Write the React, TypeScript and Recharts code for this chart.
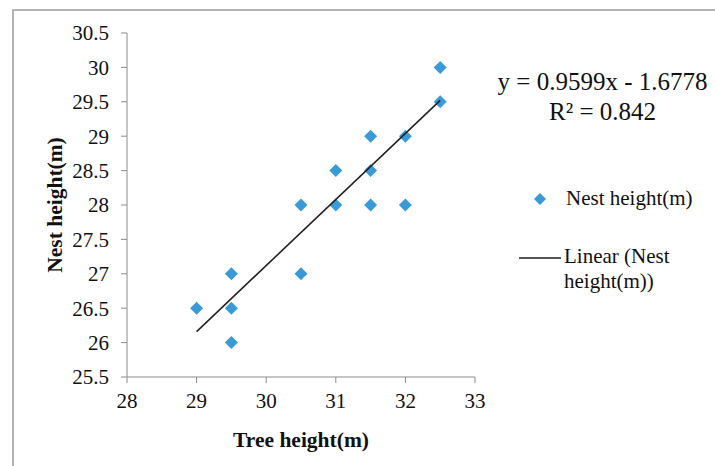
import React from 'react';
import { ScatterChart, Scatter, XAxis, YAxis } from 'recharts';

// tree height vs nest height
const treeHeight = [29, 29.5, 29.5, 29.5, 30.5, 30.5, 31, 31, 31.5, 31.5, 31.5, 32, 32, 32.5, 32.5];
const nestHeight = [26.5, 27, 26.5, 26, 28, 27, 28.5, 28, 29, 28.5, 28, 29, 28, 30, 29.5];

// linear trend endpoints (y = 0.9599x - 1.6778)
const trendX = [29, 32.5];
const trendY = [26.16, 29.52];

const xTicks = [28, 29, 30, 31, 32, 33];
const yTicks = [25.5, 26, 26.5, 27, 27.5, 28, 28.5, 29, 29.5, 30, 30.5];

const points = treeHeight.map((x, i) => ({ x, y: nestHeight[i] }));
const trend = trendX.map((x, i) => ({ x, y: trendY[i] }));

const FONT = '"Liberation Serif", "Times New Roman", serif';
const BLUE = '#3a9ad8';
const AXIS = '#8c8c8c';

const Diamond = (props: any) => {
  const { cx, cy } = props;
  const r = 6.5;
  return (
    <polygon
      points={`${cx},${cy - r} ${cx + r},${cy} ${cx},${cy + r} ${cx - r},${cy}`}
      fill={BLUE}
    />
  );
};

// legend drawn by hand so it doesn't eat into the plot area
const LegendBox = () => (
  <div style={{ position: 'absolute', left: 535, top: 190, width: 200, height: 120, fontFamily: FONT, fontSize: 21, color: '#111' }}>
    <svg width={16} height={16} style={{ position: 'absolute', left: -3, top: 1 }}>
      <polygon points="8,2 14,8 8,14 2,8" fill={BLUE} />
    </svg>
    <div style={{ position: 'absolute', left: 31, top: -4, whiteSpace: 'nowrap' }}>Nest height(m)</div>
    <svg width={42} height={4} style={{ position: 'absolute', left: -16, top: 66 }}>
      <line x1={0} y1={2} x2={42} y2={2} stroke="#555" strokeWidth={2} />
    </svg>
    <div style={{ position: 'absolute', left: 29, top: 54, lineHeight: '25px', whiteSpace: 'nowrap' }}>
      Linear (Nest
      <br />
      height(m))
    </div>
  </div>
);

export default function App() {
  return (
    <div style={{ position: 'fixed', left: 0, top: 0, width: 715, height: 466, background: '#fff', overflow: 'hidden' }}>
      {/* chart frame, only the top and left edges show */}
      <div
        style={{
          position: 'absolute',
          left: 12,
          top: 9,
          width: 720,
          height: 470,
          borderTop: '2px solid #b3b3b3',
          borderLeft: '2px solid #b3b3b3',
        }}
      />
      <ScatterChart
        width={715}
        height={466}
        margin={{ top: 33, right: 240, left: 0, bottom: 0 }}
        style={{ position: 'absolute', left: 0, top: 0, fontFamily: FONT }}
      >
        <XAxis
          type="number"
          dataKey="x"
          domain={[28, 33]}
          ticks={xTicks}
          interval={0}
          height={89}
          tickSize={6}
          tickMargin={10}
          stroke={AXIS}
          tick={{ fill: '#111', fontSize: 21, fontFamily: FONT }}
          label={{
            value: 'Tree height(m)',
            position: 'insideBottom',
            offset: 19,
            fill: '#111',
            fontSize: 21.5,
            fontWeight: 'bold',
            fontFamily: FONT,
          }}
        />
        <YAxis
          type="number"
          dataKey="y"
          domain={[25.5, 30.5]}
          ticks={yTicks}
          interval={0}
          width={127}
          tickSize={6}
          tickMargin={12}
          stroke={AXIS}
          tick={{ fill: '#111', fontSize: 21, fontFamily: FONT }}
          label={{
            value: 'Nest height(m)',
            angle: -90,
            position: 'insideLeft',
            offset: 54,
            fill: '#111',
            fontSize: 21.5,
            fontWeight: 'bold',
            fontFamily: FONT,
            style: { textAnchor: 'middle' },
          }}
        />
        <Scatter
          name="Nest height(m)"
          data={points}
          shape={<Diamond />}
          isAnimationActive={false}
        />
        <Scatter
          name="Linear (Nest height(m))"
          data={trend}
          line={{ stroke: '#222', strokeWidth: 1.6 }}
          shape={() => null}
          isAnimationActive={false}
        />
      </ScatterChart>
      <LegendBox />
      <div
        style={{
          position: 'absolute',
          left: 470,
          top: 67,
          width: 265,
          textAlign: 'center',
          fontFamily: FONT,
          fontSize: 25,
          lineHeight: '30px',
          color: '#111',
        }}
      >
        y = 0.9599x - 1.6778
        <br />
        R² = 0.842
      </div>
    </div>
  );
}
